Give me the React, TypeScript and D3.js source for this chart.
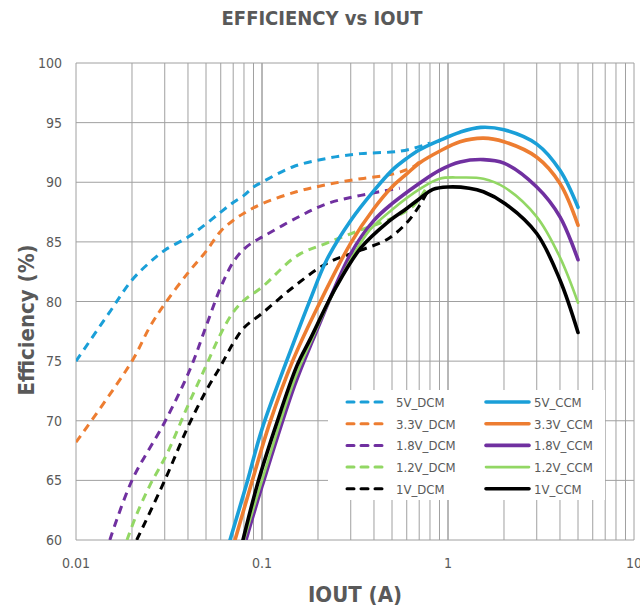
import React from 'react';
import * as d3 from 'd3';

// IOUT (A) / efficiency (%) pairs
const v5Dcm = [[0.01, 75], [0.015, 79], [0.02, 81.8], [0.025, 83.3], [0.03, 84.3], [0.04, 85.4], [0.05, 86.5], [0.06, 87.5], [0.07, 88.3], [0.08, 88.9], [0.09, 89.6], [0.1, 90.0], [0.147, 91.3], [0.223, 92.0], [0.34, 92.4], [0.55, 92.6], [0.74, 93.1], [0.8, 93.3]];
const v33Dcm = [[0.01, 68.2], [0.02, 75], [0.025, 77.9], [0.03, 79.8], [0.04, 82.4], [0.05, 84.2], [0.06, 85.9], [0.07, 86.8], [0.08, 87.4], [0.1, 88.2], [0.153, 89.2], [0.223, 89.8], [0.34, 90.3], [0.51, 90.7], [0.65, 91.3], [0.7, 91.7]];
const v18Dcm = [[0.0152, 60], [0.02, 65], [0.03, 69.9], [0.041, 74.3], [0.05, 77.9], [0.06, 81.2], [0.07, 83.3], [0.08, 84.4], [0.09, 85.0], [0.1, 85.4], [0.153, 87.0], [0.223, 88.2], [0.34, 88.9], [0.55, 89.5]];
const v12Dcm = [[0.0188, 60], [0.021, 62], [0.025, 64.6], [0.031, 67.3], [0.039, 70.9], [0.049, 74.3], [0.06, 77.3], [0.07, 79.1], [0.08, 80.1], [0.1, 81.2], [0.153, 83.8], [0.223, 84.9], [0.34, 86.0], [0.47, 86.8], [0.65, 88.0], [0.77, 89.6]];
const v1Dcm = [[0.0212, 60], [0.03, 65], [0.04, 69.5], [0.05, 72.5], [0.06, 74.6], [0.07, 76.5], [0.08, 77.8], [0.1, 79.0], [0.147, 81.2], [0.223, 83.2], [0.34, 84.3], [0.47, 85.2], [0.6, 86.6], [0.7, 88.0], [0.77, 89.1], [0.8, 89.5]];

const v5Ccm = [[0.0673, 60], [0.083, 64.8], [0.1, 69.3], [0.15, 76.8], [0.181, 80.1], [0.223, 83.5], [0.3, 86.8], [0.4, 89.3], [0.5, 91.0], [0.6, 92.0], [0.7, 92.7], [0.9, 93.5], [1.16, 94.2], [1.5, 94.6], [2, 94.4], [3, 93.2], [4, 91], [5, 87.9]];
const v33Ccm = [[0.0716, 60], [0.088, 64.8], [0.11, 69.8], [0.147, 75.1], [0.2, 79.6], [0.3, 84.9], [0.4, 87.8], [0.5, 89.6], [0.6, 90.7], [0.7, 91.6], [0.9, 92.6], [1.16, 93.4], [1.55, 93.7], [2, 93.4], [3, 92.1], [4, 89.9], [5, 86.4]];
const v18Ccm = [[0.082, 60], [0.1, 64.5], [0.15, 73], [0.188, 76.8], [0.3, 84.0], [0.4, 86.8], [0.5, 88.2], [0.7, 89.9], [0.9, 91.0], [1.16, 91.7], [1.55, 91.9], [2, 91.6], [3, 89.6], [4, 87.1], [5, 83.5]];
const v12Ccm = [[0.08, 60], [0.1, 65], [0.15, 73.5], [0.19, 77.2], [0.223, 79.6], [0.3, 83.5], [0.38, 86.0], [0.5, 87.7], [0.7, 89.4], [0.9, 90.3], [1.16, 90.4], [1.55, 90.3], [2, 89.6], [3, 87.1], [4, 83.7], [5, 79.9]];
const v1Ccm = [[0.079, 60], [0.095, 64.8], [0.12, 69.8], [0.154, 74.6], [0.181, 76.8], [0.25, 81.2], [0.34, 84.5], [0.47, 86.6], [0.6, 87.8], [0.7, 88.6], [0.83, 89.4], [1.0, 89.6], [1.3, 89.5], [1.55, 89.2], [2.03, 88.2], [3, 85.7], [4, 81.8], [5, 77.4]];

const dcmNames = ['5V_DCM', '3.3V_DCM', '1.8V_DCM', '1.2V_DCM', '1V_DCM'];
const ccmNames = ['5V_CCM', '3.3V_CCM', '1.8V_CCM', '1.2V_CCM', '1V_CCM'];
const colors = ['#1a9fd8', '#ed7d31', '#7030a0', '#92d764', '#000000'];
const dcmData = [v5Dcm, v33Dcm, v18Dcm, v12Dcm, v1Dcm];
const ccmData = [v5Ccm, v33Ccm, v18Ccm, v12Ccm, v1Ccm];

const xTicks = [0.01, 0.1, 1, 10];
const yTicks = [60, 65, 70, 75, 80, 85, 90, 95, 100];

const W = 640;
const H = 610;
const FONT = '"DejaVu Sans Condensed", "Liberation Sans Narrow", sans-serif';

export default function App() {
  const x = d3.scaleLog().domain([0.01, 10]).range([76, 634]);
  const y = d3.scaleLinear().domain([60, 100]).range([540, 63]);

  // minor grid 1..10 in each decade
  const minor: number[] = [];
  for (let d = 0.01; d < 10; d *= 10) {
    for (let k = 1; k <= 10; k++) minor.push(+(d * k).toPrecision(3));
  }

  const line = d3.line<number[]>()
    .x(d => x(d[0]))
    .y(d => y(d[1]))
    .curve(d3.curveCatmullRom.alpha(0.5));

  const grid = '#a0a0a0';
  const legX1 = 347, legX2 = 486, legY0 = 402, legDy = 21.7;

  return (
    <svg width={W} height={H} style={{ position: 'absolute', left: 0, top: 0, background: 'white' }}>
      <defs>
        <clipPath id="plot">
          <rect x={76} y={63} width={558} height={477} />
        </clipPath>
      </defs>
      <text x={322} y={25} textAnchor="middle" fontFamily={FONT} fontWeight="bold" fontSize={20} fill="#595959">
        EFFICIENCY vs IOUT
      </text>

      {minor.map((v, i) => (
        <line key={'vx' + i} x1={x(v)} x2={x(v)} y1={63} y2={540} stroke={grid} strokeWidth={1} />
      ))}
      {yTicks.map(v => (
        <line key={'hy' + v} x1={76} x2={634} y1={y(v)} y2={y(v)} stroke={grid} strokeWidth={1} />
      ))}

      {yTicks.map(v => (
        <text key={'ty' + v} x={62} y={y(v) + 5} textAnchor="end" fontFamily={FONT} fontSize={14} fill="#595959">{v}</text>
      ))}
      {xTicks.map(v => (
        <text key={'tx' + v} x={x(v)} y={568} textAnchor="middle" fontFamily={FONT} fontSize={14} fill="#595959">{v}</text>
      ))}

      <text transform="translate(34,320) rotate(-90)" textAnchor="middle" fontFamily={FONT} fontWeight="bold" fontSize={22} fill="#595959">
        Efficiency (%)
      </text>
      <text x={355} y={602} textAnchor="middle" fontFamily={FONT} fontWeight="bold" fontSize={22} fill="#595959">
        IOUT (A)
      </text>

      <g clipPath="url(#plot)" fill="none" strokeLinejoin="round">
        {dcmData.map((d, i) => (
          <path key={'dcm' + i} d={line(d) || ''} stroke={colors[i]} strokeWidth={3} strokeDasharray="8,6" />
        ))}
        {ccmData.map((d, i) => (
          <path key={'ccm' + i} d={line(d) || ''} stroke={colors[i]} strokeWidth={i === 3 ? 2.6 : 3.6} strokeLinecap="round" />
        ))}
      </g>

      <rect x={328} y={390} width={277} height={110} fill="white" />
      {dcmNames.map((n, i) => (
        <g key={n}>
          <line x1={legX1} x2={legX1 + 41} y1={legY0 + i * legDy} y2={legY0 + i * legDy} stroke={colors[i]} strokeWidth={3} strokeDasharray="7,7" strokeLinecap="round" />
          <text x={legX1 + 49} y={legY0 + i * legDy + 5} fontFamily={FONT} fontSize={13} fill="#595959">{n}</text>
        </g>
      ))}
      {ccmNames.map((n, i) => (
        <g key={n}>
          <line x1={legX2} x2={legX2 + 43} y1={legY0 + i * legDy} y2={legY0 + i * legDy} stroke={colors[i]} strokeWidth={i === 3 ? 2.6 : 3.6} strokeLinecap="round" />
          <text x={legX2 + 48} y={legY0 + i * legDy + 5} fontFamily={FONT} fontSize={13} fill="#595959">{n}</text>
        </g>
      ))}
    </svg>
  );
}
